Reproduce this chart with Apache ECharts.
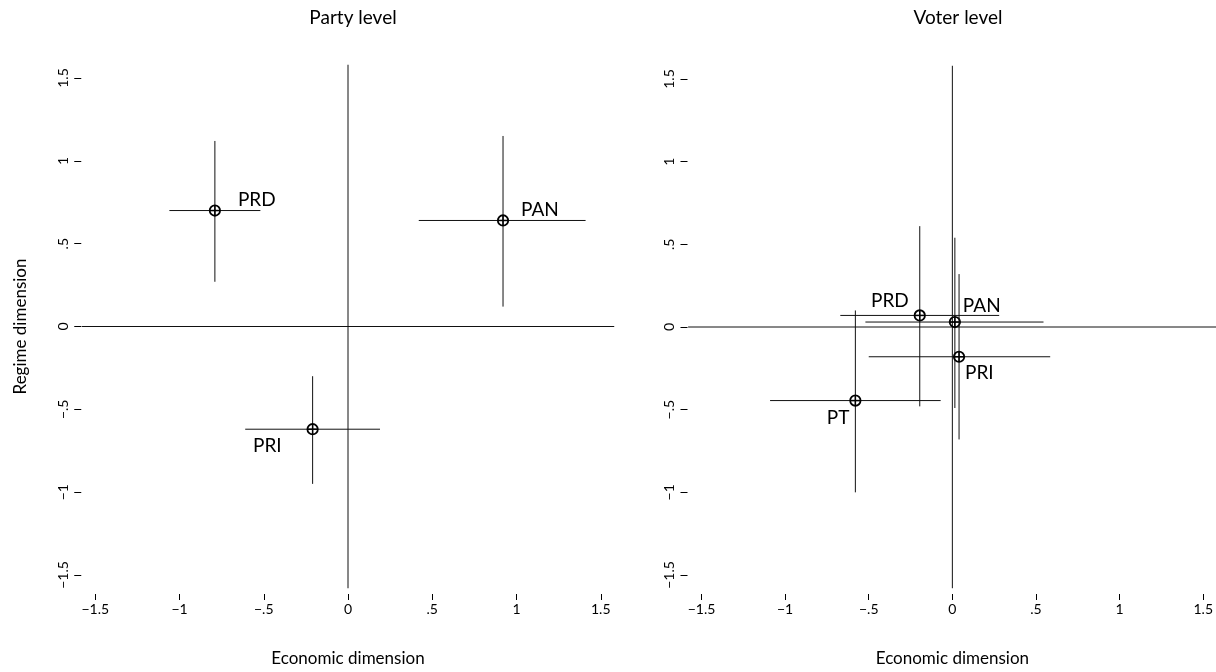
<!DOCTYPE html>
<html>
<head>
<meta charset="utf-8">
<script src="https://cdn.jsdelivr.net/npm/echarts@6/dist/echarts.min.js"></script>
<style>
html,body{margin:0;padding:0;background:#fff;}
#chart{width:1216px;height:672px;}
</style>
</head>
<body>
<div id="chart"></div>
<script>
// ---------- data ----------
const panelTitles = ['Party level', 'Voter level'];
const xAxisTitle = 'Economic dimension';
const yAxisTitle = 'Regime dimension';

const tickValues = [-1.5, -1, -0.5, 0, 0.5, 1, 1.5];
const tickLabels = ['\u22121.5', '\u22121', '\u2212.5', '0', '.5', '1', '1.5'];

// reference (zero) lines extent
const refLineLo = -1.58;
const refLineHi = 1.58;

// Party level
const partyNames = ['PRD', 'PAN', 'PRI'];
const partyX   = [-0.79, 0.92, -0.21];
const partyY   = [0.70, 0.64, -0.62];
const partyXLo = [-1.06, 0.42, -0.61];
const partyXHi = [-0.52, 1.41, 0.19];
const partyYLo = [0.27, 0.12, -0.95];
const partyYHi = [1.12, 1.15, -0.30];

// Voter level
const voterNames = ['PRD', 'PAN', 'PRI', 'PT'];
const voterX   = [-0.195, 0.015, 0.04, -0.58];
const voterY   = [0.07, 0.03, -0.18, -0.445];
const voterXLo = [-0.67, -0.52, -0.50, -1.09];
const voterXHi = [0.28, 0.545, 0.585, -0.07];
const voterYLo = [-0.48, -0.49, -0.68, -1.00];
const voterYHi = [0.61, 0.54, 0.32, 0.10];

// ---------- styling / layout ----------
const FONT = 'Lato';
const labelPlacement = [
  { PRD: [23, -11, 'left'], PAN: [18, -11, 'left'], PRI: [-31, 17, 'right'] },
  { PRD: [-11, -15, 'right'], PAN: [8, -16, 'left'], PRI: [6, 16, 'left'], PT: [-6, 17, 'right'] }
];

function buildRows(names, x, y, xlo, xhi, ylo, yhi) {
  return names.map((n, i) => ({ name: n, value: [x[i], y[i], xlo[i], xhi[i], ylo[i], yhi[i]] }));
}
const panels = [
  buildRows(partyNames, partyX, partyY, partyXLo, partyXHi, partyYLo, partyYHi),
  buildRows(voterNames, voterX, voterY, voterXLo, voterXHi, voterYLo, voterYHi)
];

const grids = [
  { left: 95.25, top: 78, width: 505.5, height: 500 },
  { left: 701.5, top: 79, width: 504, height: 500 }
];

function labelFmt(v) {
  const i = tickValues.findIndex(t => Math.abs(t - v) < 1e-9);
  return i >= 0 ? tickLabels[i] : '';
}

function renderRefLines(params, api) {
  const h1 = api.coord([refLineLo, 0]);
  const h2 = api.coord([refLineHi, 0]);
  const v1 = api.coord([0, refLineLo]);
  const v2 = api.coord([0, refLineHi]);
  return {
    type: 'group',
    children: [
      { type: 'line', shape: { x1: h1[0], y1: h1[1], x2: h2[0], y2: h2[1] }, style: { stroke: '#111', lineWidth: 1 } },
      { type: 'line', shape: { x1: v1[0], y1: v1[1], x2: v2[0], y2: v2[1] }, style: { stroke: '#111', lineWidth: 1 } }
    ]
  };
}

function makeRender(panelIndex) {
  const names = panelIndex === 0 ? partyNames : voterNames;
  return function (params, api) {
    const x = api.value(0), y = api.value(1);
    const c = api.coord([x, y]);
    const h1 = api.coord([api.value(2), y]);
    const h2 = api.coord([api.value(3), y]);
    const v1 = api.coord([x, api.value(4)]);
    const v2 = api.coord([x, api.value(5)]);
    const name = names[params.dataIndex];
    const lp = labelPlacement[panelIndex][name];
    const r = 5.2;
    const stroke = '#111';
    return {
      type: 'group',
      children: [
        { type: 'line', shape: { x1: h1[0], y1: h1[1], x2: h2[0], y2: h2[1] }, style: { stroke: stroke, lineWidth: 1 } },
        { type: 'line', shape: { x1: v1[0], y1: v1[1], x2: v2[0], y2: v2[1] }, style: { stroke: stroke, lineWidth: 1 } },
        { type: 'circle', shape: { cx: c[0], cy: c[1], r: r }, style: { fill: 'none', stroke: '#000', lineWidth: 1.8 } },
        { type: 'line', shape: { x1: c[0] - r, y1: c[1], x2: c[0] + r, y2: c[1] }, style: { stroke: '#000', lineWidth: 1.5 } },
        { type: 'line', shape: { x1: c[0], y1: c[1] - r, x2: c[0], y2: c[1] + r }, style: { stroke: '#000', lineWidth: 1.5 } },
        { type: 'text', x: c[0] + lp[0], y: c[1] + lp[1],
          style: { text: name, fill: '#000', font: '19px ' + FONT, align: lp[2], verticalAlign: 'middle' } }
      ]
    };
  };
}

const xAxes = [0, 1].map(i => ({
  type: 'value', gridIndex: i, min: -1.5, max: 1.5, interval: 0.5,
  position: 'bottom', offset: 19,
  axisLine: { show: false, onZero: false },
  axisTick: { show: true, length: 6, inside: false, lineStyle: { color: '#000', width: 1 } },
  axisLabel: { formatter: labelFmt, margin: 8, color: '#000', fontSize: 14, fontFamily: FONT, showMinLabel: true, showMaxLabel: true },
  splitLine: { show: false },
  name: xAxisTitle, nameLocation: 'middle', nameGap: 56,
  nameTextStyle: { color: '#000', fontSize: 17, fontFamily: FONT }
}));

const yAxes = [0, 1].map(i => ({
  type: 'value', gridIndex: i, min: -1.5, max: 1.5, interval: 0.5,
  position: 'left', offset: 14,
  axisLine: { show: false, onZero: false },
  axisTick: { show: true, length: 7, lineStyle: { color: '#000', width: 1 } },
  axisLabel: { formatter: labelFmt, margin: 11, rotate: 90, color: '#000', fontSize: 14, fontFamily: FONT, showMinLabel: true, showMaxLabel: true },
  splitLine: { show: false },
  name: i === 0 ? yAxisTitle : '', nameLocation: 'middle', nameGap: 52, nameRotate: 90,
  nameTextStyle: { color: '#000', fontSize: 17, fontFamily: FONT }
}));

const series = [];
[0, 1].forEach(i => {
  series.push({
    type: 'custom', xAxisIndex: i, yAxisIndex: i, clip: false, animation: false, silent: true,
    renderItem: renderRefLines, data: [[0, 0]], z: 1
  });
  series.push({
    type: 'custom', xAxisIndex: i, yAxisIndex: i, clip: false, animation: false,
    renderItem: makeRender(i), data: panels[i], z: 3
  });
});

const option = {
  backgroundColor: '#fff',
  animation: false,
  title: [
    { text: panelTitles[0], left: 348, top: 3, textAlign: 'center',
      textStyle: { fontSize: 19, fontWeight: 'normal', color: '#000', fontFamily: FONT } },
    { text: panelTitles[1], left: 953, top: 3, textAlign: 'center',
      textStyle: { fontSize: 19, fontWeight: 'normal', color: '#000', fontFamily: FONT } }
  ],
  grid: grids,
  xAxis: xAxes,
  yAxis: yAxes,
  series: series
};

const chart = echarts.init(document.getElementById('chart'), null, { renderer: 'canvas' });
chart.setOption(option);
</script>
</body>
</html>
